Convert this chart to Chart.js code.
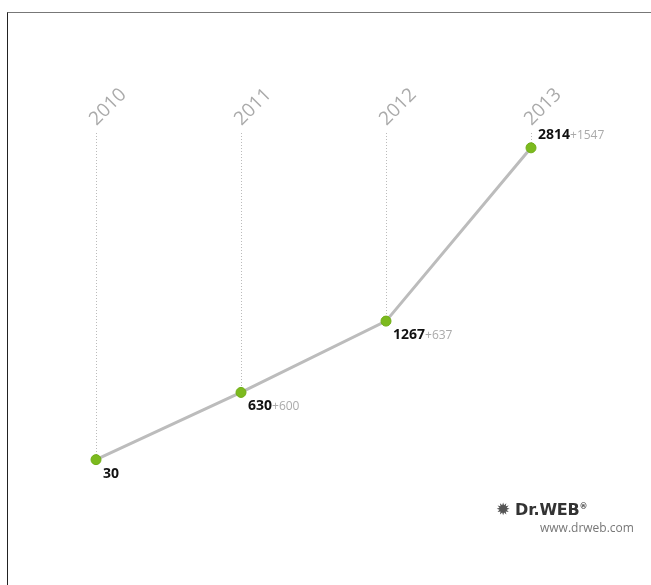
<!DOCTYPE html>
<html>
<head>
<meta charset="utf-8">
<script src="https://cdn.jsdelivr.net/npm/chart.js@4/dist/chart.umd.min.js"></script>
<style>
  body { margin: 0; background: #fff; font-family: "Open Sans", sans-serif; }
  #wrap { position: relative; width: 651px; height: 585px; overflow: hidden; }
  #frame { position: absolute; left: 7px; top: 12px; right: -5px; bottom: -5px;
    border-top: 1px solid #777; border-left: 1px solid #222; }
  #chart { position: absolute; left: 0; top: 0; }
  #logo { position: absolute; left: 496px; top: 499px; width: 150px; }
  #logo .brand { font-family: "DejaVu Sans", sans-serif; font-weight: bold; font-size: 16px; color: #333; letter-spacing: -0.2px; }
  #logo .brand span.ico { font-size: 17px; color: #555; margin-right: 5px; }
  #logo .brand sup { font-size: 8px; }
  #logo .url { font-size: 12px; color: #777; margin-left: 44px; margin-top: 0px; }
</style>
</head>
<body>
<div id="wrap">
  <div id="frame"></div>
  <canvas id="chart" width="651" height="585"></canvas>
  <div id="logo">
    <div class="brand"><span class="ico">&#10041;</span>Dr.WEB<sup>&#174;</sup></div>
    <div class="url">www.drweb.com</div>
  </div>
</div>
<script>
let years = ["2010", "2011", "2012", "2013"]
let totals = [30, 630, 1267, 2814]
let growth = ["", "+600", "+637", "+1547"]

// labels drawn next to points, guides up to the year captions
const yearPlugin = {
  id: "yearPlugin",
  afterDatasetsDraw(chart) {
    let ctx = chart.ctx
    let meta = chart.getDatasetMeta(0)
    meta.data.forEach((pt, i) => {
      // year caption, rotated
      ctx.save()
      ctx.translate(pt.x + 12, 107)
      ctx.rotate(-Math.PI / 4)
      ctx.font = "19px 'Open Sans'"
      ctx.fillStyle = "#aaa"
      ctx.textAlign = "center"
      ctx.textBaseline = "middle"
      ctx.fillText(years[i], 0, 0)
      ctx.restore()

      // value + growth
      let last = i == meta.data.length - 1
      let tx = pt.x + 7
      let ty = last ? pt.y - 9 : pt.y + 18
      ctx.save()
      ctx.textBaseline = "alphabetic"
      ctx.textAlign = "left"
      ctx.font = "bold 14px 'Open Sans'"
      ctx.fillStyle = "#111"
      ctx.fillText(totals[i], tx, ty)
      let w = ctx.measureText(String(totals[i])).width
      ctx.font = "12px 'Open Sans'"
      ctx.fillStyle = "#aaa"
      ctx.fillText(growth[i], tx + w, ty)
      ctx.restore()
    })
  },
  beforeDatasetsDraw(chart) {
    let ctx = chart.ctx
    let meta = chart.getDatasetMeta(0)
    ctx.save()
    ctx.strokeStyle = "#bbb"
    ctx.lineWidth = 1
    ctx.setLineDash([1, 2])
    meta.data.forEach(pt => {
      ctx.beginPath()
      ctx.moveTo(Math.round(pt.x) + 0.5, 133)
      ctx.lineTo(Math.round(pt.x) + 0.5, pt.y)
      ctx.stroke()
    })
    ctx.restore()
  }
}

new Chart(document.getElementById("chart"), {
  type: "line",
  data: {
    labels: years,
    datasets: [{
      data: totals,
      borderColor: "#bcbcbc",
      borderWidth: 3,
      pointBackgroundColor: "#7cba1e",
      pointBorderColor: "#70ad16",
      pointBorderWidth: 1,
      pointRadius: 5,
      tension: 0,
      clip: false
    }]
  },
  options: {
    responsive: false,
    animation: false,
    layout: { padding: { left: 96, right: 120, top: 127, bottom: 122 } },
    plugins: { legend: { display: false }, tooltip: { enabled: false } },
    scales: {
      x: { display: false, offset: false },
      y: { display: false, min: 0, max: 3000 }
    }
  },
  plugins: [yearPlugin]
});
</script>
</body>
</html>
